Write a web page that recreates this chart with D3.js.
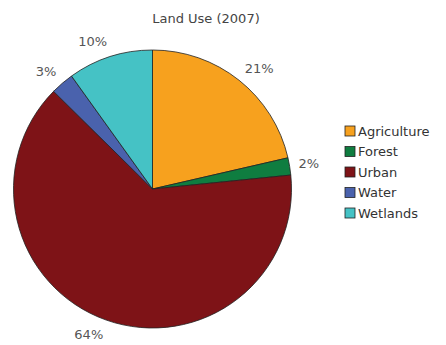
<!DOCTYPE html>
<html><head><meta charset="utf-8">
<script src="https://cdn.jsdelivr.net/npm/d3@7"></script>
<style>body{margin:0;background:#fff;}svg{display:block;}</style>
</head><body>
<script>
const categories = ["Agriculture","Forest","Urban","Water","Wetlands"];
const values = [21.4, 2.0, 64.0, 2.7, 9.9];
const labels = ["21%","2%","64%","3%","10%"];
const colors = ["#F7A11E","#0F7D40","#7E1317","#4A62AD","#45C2C5"];
const title = "Land Use (2007)";

const W=446,H=345;
const svg=d3.select("body").append("svg").attr("width",W).attr("height",H);
const font="'DejaVu Sans', sans-serif";
svg.append("text").attr("x",206).attr("y",23).attr("text-anchor","middle")
  .attr("font-family",font).attr("font-size",13).attr("fill","#444").text(title);

const cx=152.5, cy=189, r=139;
const data=categories.map((c,i)=>({c,v:values[i],l:labels[i],col:colors[i]}));
const pie=d3.pie().value(d=>d.v).sort(null);
const arcs=pie(data);
const arc=d3.arc().innerRadius(0).outerRadius(r);
const g=svg.append("g").attr("transform",`translate(${cx},${cy})`);
g.selectAll("path").data(arcs).join("path").attr("d",arc)
  .attr("fill",d=>d.data.col).attr("stroke","#222").attr("stroke-width",0.8);
const lr=r+9;
g.selectAll("text.l").data(arcs).join("text").attr("class","l")
  .each(function(d){
    const a=(d.startAngle+d.endAngle)/2;
    const x=Math.sin(a)*lr, y=-Math.cos(a)*lr - Math.cos(a)*6.5;
    d3.select(this).attr("x",x).attr("y",y)
      .attr("text-anchor",Math.sin(a)>=0?"start":"end");
  })
  .attr("dy","0.35em")
  .attr("font-family",font).attr("font-size",13).attr("fill","#555")
  .text(d=>d.data.l);

const lg=svg.append("g").attr("transform","translate(345,126)");
const row=lg.selectAll("g").data(data).join("g").attr("transform",(d,i)=>`translate(0,${i*20.5})`);
row.append("rect").attr("x",0).attr("y",0).attr("width",10).attr("height",10)
  .attr("fill",d=>d.col).attr("stroke","#222").attr("stroke-width",0.8);
row.append("text").attr("x",13).attr("y",5).attr("dy","0.36em")
  .attr("font-family",font).attr("font-size",13).attr("fill","#333").text(d=>d.c);
</script>
</body></html>
